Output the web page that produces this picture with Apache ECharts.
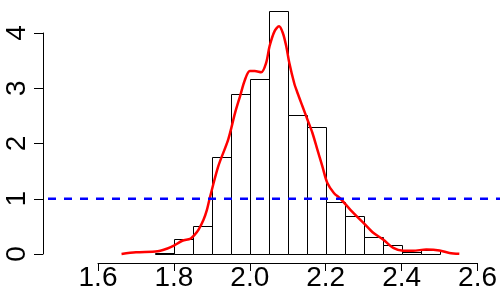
<!DOCTYPE html>
<html><head><meta charset="utf-8">
<script src="https://cdn.jsdelivr.net/npm/echarts@6/dist/echarts.min.js"></script>
<style>html,body{margin:0;padding:0;background:#fff}#c{width:500px;height:300px}</style>
</head><body><div id="c"></div>
<script>
// Histogram bins (density scale)
const breaks = [1.75,1.80,1.85,1.90,1.95,2.00,2.05,2.10,2.15,2.20,2.25,2.30,2.35,2.40,2.45,2.50];
const heights = [0.02,0.27,0.51,1.76,2.89,3.17,4.40,2.52,2.30,0.95,0.69,0.31,0.16,0.04,0.08];
// Kernel density curve
const densX = [1.662,1.700,1.757,1.783,1.800,1.822,1.844,1.855,1.865,1.878,1.887,1.894,1.917,1.943,1.961,1.974,1.987,2.000,2.013,2.030,2.043,2.052,2.065,2.077,2.087,2.096,2.104,2.117,2.126,2.139,2.152,2.165,2.178,2.191,2.204,2.222,2.239,2.265,2.300,2.326,2.352,2.378,2.404,2.430,2.465,2.500,2.526,2.552];
const densY = [0.00,0.03,0.05,0.10,0.15,0.24,0.28,0.35,0.44,0.62,0.80,1.00,1.59,2.07,2.55,2.85,3.15,3.31,3.31,3.29,3.46,3.76,4.03,4.12,4.00,3.76,3.46,3.09,2.91,2.67,2.43,2.19,1.89,1.59,1.29,1.10,1.00,0.80,0.56,0.38,0.26,0.11,0.06,0.06,0.08,0.065,0.02,0.005];
// Reference line
const refY = 1;
const xTicks = [1.6,1.8,2.0,2.2,2.4,2.6];
const yTicks = [0,1,2,3,4];

const histData = heights.map((h,i)=>[breaks[i],breaks[i+1],h]);
const densData = densX.map((x,i)=>[x,densY[i]]);
const font = 'Liberation Sans, Arial, sans-serif';

const chart = echarts.init(document.getElementById('c'));
chart.setOption({
  animation:false,
  backgroundColor:'#fff',
  grid:[
    {left:98,right:18,top:33,bottom:46},
    {left:48,right:0,top:33,bottom:46}
  ],
  xAxis:[
    {gridIndex:0,type:'value',min:xTicks[0],max:xTicks[xTicks.length-1],interval:0.2,offset:9,
     axisLine:{show:true,onZero:false,lineStyle:{color:'#000',width:1}},
     axisTick:{show:true,length:8,lineStyle:{color:'#000'}},
     splitLine:{show:false},
     axisLabel:{margin:1,color:'#000',fontSize:28,fontFamily:font,formatter:v=>v.toFixed(1)}},
    {gridIndex:1,type:'value',min:0,max:1,show:false}
  ],
  yAxis:[
    {gridIndex:0,type:'value',min:yTicks[0],max:yTicks[yTicks.length-1],interval:1,offset:55,
     axisLine:{show:true,onZero:false,lineStyle:{color:'#000',width:1}},
     axisTick:{show:true,length:9,lineStyle:{color:'#000'}},
     splitLine:{show:false},
     axisLabel:{margin:12,rotate:90,color:'#000',fontSize:28,fontFamily:font}},
    {gridIndex:1,type:'value',min:yTicks[0],max:yTicks[yTicks.length-1],show:false}
  ],
  series:[
    {type:'custom',xAxisIndex:0,yAxisIndex:0,data:histData,clip:false,z:1,
     renderItem:function(params,api){
       const p0=api.coord([api.value(0),0]);
       const p1=api.coord([api.value(1),api.value(2)]);
       const x0=Math.round(p0[0])+0.5, x1=Math.round(p1[0])+0.5;
       const y0=Math.round(p0[1])+0.5, y1=Math.round(p1[1])+0.5;
       return {type:'rect',shape:{x:x0,y:y1,width:x1-x0,height:y0-y1},
         style:{fill:'#fff',stroke:'#000',lineWidth:1}};
     }},
    {type:'line',xAxisIndex:0,yAxisIndex:0,data:densData,symbol:'none',smooth:0.3,clip:false,z:3,
     lineStyle:{color:'#ff0000',width:2.5}},
    {type:'line',xAxisIndex:1,yAxisIndex:1,data:[[0,refY],[1,refY]],symbol:'none',z:4,
     lineStyle:{color:'#0000ff',width:2.5,type:[8,8]}}
  ]
});
</script></body></html>
